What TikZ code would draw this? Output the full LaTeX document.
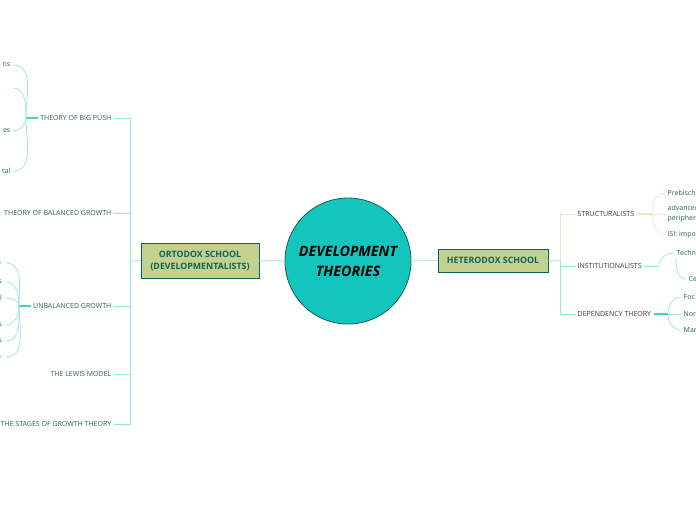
\documentclass[tikz,border=0pt]{standalone}
\usepackage{fontspec}
\setmainfont{Open Sans}
\usepackage{tikz}
\usetikzlibrary{positioning,calc}
\definecolor{tcore}{HTML}{14C5BD}
\definecolor{tdark}{HTML}{0E625D}
\definecolor{tbox}{HTML}{C3D18E}
\definecolor{tlink}{HTML}{95E4DD}
\definecolor{tjoint}{HTML}{45D0C6}
\definecolor{tpale}{HTML}{E5EAC4}
\definecolor{ttext}{HTML}{2C5E59}
\definecolor{rtext}{HTML}{3A3A3A}
\tikzset{
 core/.style={circle,draw=tdark,fill=tcore,line width=0.8pt,minimum size=126pt,
   align=center,inner sep=0pt,font=\fontsize{14.3}{20}\selectfont\bfseries\itshape},
 school/.style={draw=tdark,fill=tbox,line width=0.8pt,align=center,text=tdark,
   inner sep=0pt,font=\fontsize{8.8}{12}\selectfont\bfseries},
 topic/.style={inner sep=2.5pt,font=\fontsize{7}{8}\selectfont,text=ttext},
 rtopic/.style={topic,text=rtext},
 leaf/.style={inner sep=2.5pt,font=\fontsize{7}{10}\selectfont,text=ttext,align=left},
 link/.style={draw=tlink,line width=0.7pt},
 palelink/.style={draw=tpale,line width=0.7pt},
 joint/.style={draw=tjoint,line width=1.3pt}
}
\begin{document}
\begin{tikzpicture}[x=1pt,y=-1pt]
 \useasboundingbox (0,0) rectangle (696,520);
 \clip (0,0) rectangle (696,520);
 % centre and schools
 \node[core] (root) at (348,261) {DEVELOPMENT\\THEORIES};
 \node[school,minimum width=118pt,minimum height=35pt] (orto) at (200,260.5) {ORTODOX SCHOOL\\(DEVELOPMENTALISTS)};
 \node[school,minimum width=110pt,minimum height=23pt] (hetero) at (493,260.5) {HETERODOX SCHOOL};
 \draw[link] (root) -- (orto);
 \draw[link] (root) -- (hetero);
 % ortodox branch
 \node[topic,anchor=east] (bigpush) at (114,118) {THEORY OF BIG PUSH};
 \node[topic,anchor=east] (balanced) at (114,213) {THEORY OF BALANCED GROWTH};
 \node[topic,anchor=east] (unbalanced) at (114,306) {UNBALANCED GROWTH};
 \node[topic,anchor=east] (lewis) at (114,374) {THE LEWIS MODEL};
 \node[topic,anchor=east] (stages) at (114,424) {THE STAGES OF GROWTH THEORY};
 \coordinate (lspine) at (130,261);
 \draw[link] (orto.west) -- (lspine);
 \foreach \t in {bigpush,balanced,unbalanced,lewis,stages}
   \draw[link] (\t.east) -| (lspine);
 % big push leaves
 \coordinate (bpjoint) at (26,118);
 \draw[joint] (bpjoint) -- (bigpush.west);
 \node[leaf,anchor=east] (bp1) at (13,65) {ns};
 \coordinate (bp2) at (13,88);
 \node[leaf,anchor=east] (bp3) at (13,131) {es};
 \node[leaf,anchor=east] (bp4) at (13,171) {tal};
 \draw[link] (bpjoint) to[out=90,in=0] (bp1.east);
 \draw[link] (bpjoint) to[out=90,in=0] (bp2);
 \draw[link] (bpjoint) to[out=-90,in=0] (bp3.east);
 \draw[link] (bpjoint) to[out=-90,in=0] (bp4.east);
 % unbalanced leaves
 \coordinate (ubjoint) at (19,306);
 \draw[joint] (ubjoint) -- (unbalanced.west);
 \node[leaf,anchor=east,inner xsep=4pt] (ub1) at (6,263) {.};
 \node[leaf,anchor=east,inner xsep=4pt] (ub2) at (6,282) {s};
 \node[leaf,anchor=east,inner xsep=4pt] (ub3) at (6,298) {l};
 \node[leaf,anchor=east,inner xsep=4pt] (ub4) at (6,325) {s};
 \node[leaf,anchor=east,inner xsep=4pt] (ub5) at (6,341) {s};
 \node[leaf,anchor=east,inner xsep=4pt] (ub6) at (6,357) {.};
 \foreach \l in {ub1,ub2,ub3}
   \draw[link] (ubjoint) to[out=90,in=0] (\l.east);
 \foreach \l in {ub4,ub5,ub6}
   \draw[link] (ubjoint) to[out=-90,in=0] (\l.east);
 % heterodox branch
 \node[rtopic,anchor=west] (struct) at (575,214) {STRUCTURALISTS};
 \node[rtopic,anchor=west] (instit) at (575,266) {INSTITUTIONALISTS};
 \node[rtopic,anchor=west] (depend) at (575,314) {DEPENDENCY THEORY};
 \coordinate (rspine) at (560,261);
 \draw[link] (hetero.east) -- (rspine);
 \draw[palelink] (rspine) |- (struct.west);
 \draw[link] (rspine) |- (instit.west);
 \draw[link] (rspine) |- (depend.west);
 % structuralists leaves
 \coordinate (stjoint) at (652,214);
 \draw[palelink,line width=1.3pt] (struct.east) -- (stjoint);
 \node[leaf,anchor=west] (st1) at (665,193) {Prebisch};
 \node[leaf,anchor=west] (st2) at (665,214) {advanced\\peripher};
 \node[leaf,anchor=west] (st3) at (665,235) {ISI: impo};
 \draw[palelink] (stjoint) to[out=90,in=180] (st1.west);
 \draw[palelink] (stjoint) -- (st2.west);
 \draw[palelink] (stjoint) to[out=-90,in=180] (st3.west);
 % institutionalists leaves
 \coordinate (injoint) at (659,266);
 \draw[link] (instit.east) -- (injoint);
 \node[leaf,anchor=west] (techn) at (674,253) {Techn};
 \node[leaf,anchor=west] (ce) at (686,279) {Ce};
 \draw[link] (injoint) to[out=90,in=180] (techn.west);
 \draw[link] ($(techn.west)+(2,5)$) to[out=-90,in=180] (ce.west);
 % dependency leaves
 \coordinate (dpjoint) at (668,314);
 \draw[joint] (depend.east) -- (dpjoint);
 \node[leaf,anchor=west] (dp1) at (681,297) {Foc};
 \node[leaf,anchor=west] (dp2) at (681,314) {Nor};
 \node[leaf,anchor=west] (dp3) at (681,330) {Mar};
 \draw[link] (dpjoint) to[out=90,in=180] (dp1.west);
 \draw[link] (dpjoint) -- (dp2.west);
 \draw[link] (dpjoint) to[out=-90,in=180] (dp3.west);
\end{tikzpicture}
\end{document}
